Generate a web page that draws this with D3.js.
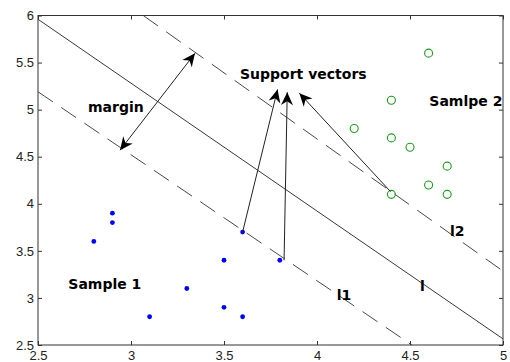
<!DOCTYPE html>
<html><head><meta charset="utf-8">
<script src="https://cdn.jsdelivr.net/npm/d3@7"></script>
<style>
html,body{margin:0;padding:0;background:#fff;}
svg{display:block;}
</style></head>
<body><svg id="c" width="510" height="362"></svg>
<script>
// Data
const sample1X = [2.8, 2.9, 2.9, 3.1, 3.3, 3.5, 3.5, 3.6, 3.6, 3.8];
const sample1Y = [3.6, 3.9, 3.8, 2.8, 3.1, 3.4, 2.9, 2.8, 3.7, 3.4];
const sample2X = [4.6, 4.4, 4.2, 4.4, 4.5, 4.7, 4.6, 4.4, 4.7];
const sample2Y = [5.6, 5.1, 4.8, 4.7, 4.6, 4.4, 4.2, 4.1, 4.1];
const xTicks = [2.5, 3, 3.5, 4, 4.5, 5];
const yTicks = [2.5, 3, 3.5, 4, 4.5, 5, 5.5, 6];
// separating line l and margin lines l1, l2 (endpoints in data units)
const lineL  = [[2.5, 5.96], [5.0, 2.565]];
const lineL1 = [[2.5, 5.19], [4.51, 2.5]];
const lineL2 = [[3.066, 6.0], [5.0, 3.285]];
// annotation arrows (data units): tail ... tip
const marginArrow = [[2.941, 4.569], [3.344, 5.598]];
const svArrows = [
  [[3.6, 3.7], [3.788, 5.215]],
  [[3.823, 3.40], [3.84, 5.185]],
  [[4.395, 4.13], [4.339, 4.25], [3.905, 5.175]]
];
const labels = [
  {t: "margin", x: 2.769, y: 4.973},
  {t: "Support vectors", x: 3.586, y: 5.324},
  {t: "Samlpe 2", x: 4.604, y: 5.04},
  {t: "Sample 1", x: 2.663, y: 3.098},
  {t: "l2", x: 4.715, y: 3.654},
  {t: "l", x: 4.554, y: 3.072},
  {t: "l1", x: 4.106, y: 2.973}
];

const W = 510, H = 362;
const m = {l: 38, r: 7, t: 15.5, b: 17};
const x = d3.scaleLinear().domain([2.5, 5]).range([m.l, W - m.r]);
const y = d3.scaleLinear().domain([2.5, 6]).range([H - m.b, m.t]);
const svg = d3.select("#c");

const defs = svg.append("defs");
defs.append("marker").attr("id", "ah").attr("viewBox", "-14 -7 16 14")
  .attr("refX", 0).attr("refY", 0).attr("markerWidth", 16).attr("markerHeight", 14)
  .attr("markerUnits", "userSpaceOnUse").attr("orient", "auto-start-reverse")
  .append("path").attr("d", "M0,0 L-13,-6 L-9,0 L-13,6 Z").attr("fill", "#000");

const line = d3.line().x(d => x(d[0])).y(d => y(d[1]));

// lines
svg.append("path").attr("d", line(lineL)).attr("fill", "none")
  .attr("stroke", "#222").attr("stroke-width", 0.9);
[lineL1, lineL2].forEach(L => {
  svg.append("path").attr("d", line(L)).attr("fill", "none")
    .attr("stroke", "#333").attr("stroke-width", 0.9).attr("stroke-dasharray", "18,10");
});

// points
svg.append("g").selectAll("circle").data(sample1X).join("circle")
  .attr("cx", (d) => x(d)).attr("cy", (d, i) => y(sample1Y[i]))
  .attr("r", 2.4).attr("fill", "#0000ff");
svg.append("g").selectAll("circle").data(sample2X).join("circle")
  .attr("cx", (d) => x(d)).attr("cy", (d, i) => y(sample2Y[i]))
  .attr("r", 4).attr("fill", "none").attr("stroke", "#1e9a1e").attr("stroke-width", 1.1);

// arrows
svg.append("path").attr("d", line(marginArrow)).attr("fill", "none")
  .attr("stroke", "#222").attr("stroke-width", 1)
  .attr("marker-start", "url(#ah)").attr("marker-end", "url(#ah)");
svArrows.forEach(a => {
  svg.append("path").attr("d", line(a)).attr("fill", "none")
    .attr("stroke", "#222").attr("stroke-width", 1)
    .attr("marker-end", "url(#ah)");
});

// labels
svg.append("g").selectAll("text").data(labels).join("text")
  .attr("x", d => x(d.x)).attr("y", d => y(d.y))
  .attr("font-family", "DejaVu Sans, sans-serif").attr("font-weight", "bold")
  .attr("font-size", 14).attr("fill", "#000").text(d => d.t);

// axes box
const axCol = "#333";
svg.append("rect").attr("x", m.l).attr("y", m.t).attr("width", W - m.r - m.l)
  .attr("height", H - m.b - m.t).attr("fill", "none").attr("stroke", axCol).attr("stroke-width", 1);

const gx = svg.append("g").attr("transform", `translate(0,${H - m.b})`)
  .call(d3.axisBottom(x).tickValues(xTicks).tickSize(-4).tickPadding(5.5).tickFormat(d3.format("")));
const gxt = svg.append("g").attr("transform", `translate(0,${m.t})`)
  .call(d3.axisTop(x).tickValues(xTicks).tickSize(-4).tickFormat(""));
const gy = svg.append("g").attr("transform", `translate(${m.l},0)`)
  .call(d3.axisLeft(y).tickValues(yTicks).tickSize(-4).tickPadding(4).tickFormat(d3.format("")));
const gyr = svg.append("g").attr("transform", `translate(${W - m.r},0)`)
  .call(d3.axisRight(y).tickValues(yTicks).tickSize(-4).tickFormat(""));
[gx, gxt, gy, gyr].forEach(g => {
  g.select(".domain").remove();
  g.selectAll("line").attr("stroke", axCol);
  g.selectAll("text").attr("font-family", "Liberation Sans, Arial, sans-serif")
    .attr("font-size", 13).attr("fill", "#222");
});
</script></body></html>
